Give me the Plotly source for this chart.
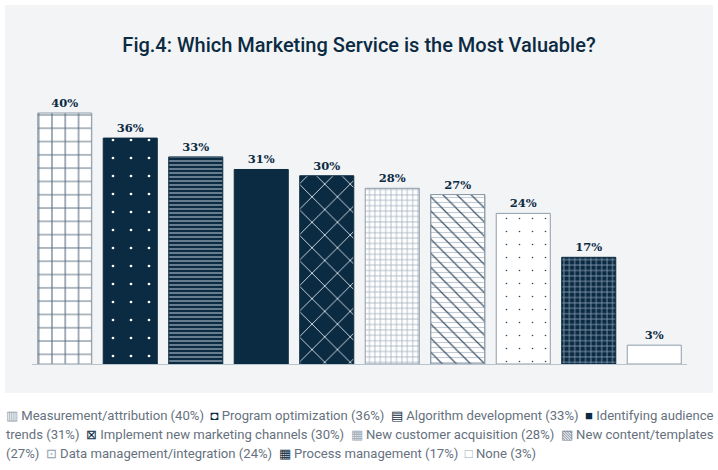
import plotly.graph_objects as go

# ---- data ----
categories = [
    "Measurement/attribution", "Program optimization", "Algorithm development",
    "Identifying audience trends", "Implement new marketing channels",
    "New customer acquisition", "New content/templates",
    "Data management/integration", "Process management", "None",
]
values = [40, 36, 33, 31, 30, 28, 27, 24, 17, 3]
title_text = "Fig.4: Which Marketing Service is the Most Valuable?"

# ---- styles ----
NAVY = "#0b2b42"
LINE = "#8e9dab"
WHITE = "#ffffff"
pat_shape = ["+", ".", "-", "", "x", "+", "-", ".", "+", ""]
pat_fg = ["#5a6f81", WHITE, "#c4ced8", NAVY, "#d5dde5", "#aab7c3", "#c3ccd5", "#33485a", "#7f96ab", WHITE]
pat_bg = [WHITE, NAVY, NAVY, NAVY, NAVY, WHITE, WHITE, WHITE, NAVY, WHITE]
pat_size = [13.3, 18, 4, 8, 18, 5.4, 5, 13, 5.4, 8]
pat_solid = [0.16, 0.018, 0.25, 0.2, 0.1, 0.3, 0.22, 0.012, 0.3, 0.2]
outline = [LINE, NAVY, NAVY, NAVY, NAVY, LINE, LINE, LINE, NAVY, LINE]
swatches = [("▥", "#8e9dab"), ("◘", NAVY), ("▤", NAVY), ("■", NAVY), ("⊠", NAVY),
            ("▦", "#9aa9b7"), ("▧", "#6f8090"), ("⊡", "#8e9dab"), ("▦", NAVY), ("□", "#9aa9b7")]

W, H = 718, 470
L, R, T, B = 32, 31, 95, 106
pw, ph = W - L - R, H - T - B
px_per_unit = 6.275
ymax = ph / px_per_unit

fig = go.Figure()
for i, (cat, v) in enumerate(zip(categories, values)):
    pattern = dict(shape=pat_shape[i], fgcolor=pat_fg[i], bgcolor=pat_bg[i],
                   size=pat_size[i], solidity=pat_solid[i], fillmode="replace")
    fig.add_trace(go.Bar(
        x=[cat], y=[v],
        text=[f"{v}%"], textposition="outside", cliponaxis=False,
        textfont=dict(family="DejaVu Serif", size=11.5, color=NAVY, weight="bold"),
        marker=dict(color=pat_bg[i], line=dict(color=outline[i], width=1), pattern=pattern),
        showlegend=False, hoverinfo="x+y",
    ))
# second layer of pattern for "New content/templates" (diagonals over horizontal lines)
idx = categories.index("New content/templates")
fig.add_trace(go.Bar(
    x=[categories[idx]], y=[values[idx]],
    marker=dict(color="rgba(0,0,0,0)", line=dict(color=LINE, width=1),
                pattern=dict(shape="\\", fgcolor="#3d5366", bgcolor="rgba(0,0,0,0)",
                             size=10, solidity=0.12, fillmode="replace")),
    showlegend=False, hoverinfo="skip",
))

# ---- legend as wrapped text ----
tokens = []
for (sym, col), cat, v in zip(swatches, categories, values):
    words = f"{cat} ({v}%)".split(" ")
    tokens.append((f'<span style="color:{col}">{sym}</span> {words[0]}', len(words[0]) + 2, True))
    for w in words[1:]:
        tokens.append((w, len(w), False))
lines, cur, n = [], [], 0
for tok, ln, new_item in tokens:
    add = ln + (1 if cur else 0) + (1 if new_item and cur else 0)
    if cur and n + add > 118:
        lines.append(cur)
        cur, n = [], 0
        add = ln
    if cur:
        cur.append(("  " if new_item else " ") + tok)
    else:
        cur.append(tok)
    n += add
if cur:
    lines.append(cur)

leg_y_px = [415.7, 434.5, 453.5]
for i, parts in enumerate(lines):
    fig.add_annotation(
        text="".join(parts), xref="paper", yref="paper",
        x=(4 - L) / pw, y=(H - B - leg_y_px[i]) / ph,
        xanchor="left", yanchor="middle", showarrow=False,
        font=dict(family="Roboto", size=13.1, color="#66717e"),
    )

# gray panel
fig.add_shape(type="rect", xref="paper", yref="paper", layer="below",
              x0=(5 - L) / pw, x1=(713 - L) / pw,
              y0=(H - B - 393) / ph, y1=(H - B - 5) / ph,
              fillcolor="#f3f4f6", line=dict(width=0))

fig.update_layout(
    width=W, height=H,
    margin=dict(l=L, r=R, t=T, b=B),
    paper_bgcolor="white", plot_bgcolor="rgba(0,0,0,0)",
    barmode="overlay", bargap=0.175,
    title=dict(text=title_text, x=0.5, xanchor="center", y=1 - 45 / H, yanchor="middle",
               font=dict(family="Roboto", size=20, color=NAVY, weight=500)),
    xaxis=dict(showticklabels=False, showgrid=False, zeroline=False, showline=True,
               linecolor="#b9c3cc", linewidth=1, fixedrange=True,
               categoryorder="array", categoryarray=categories),
    yaxis=dict(range=[0, ymax], visible=False, fixedrange=True),
    font=dict(family="Roboto"),
)

fig.write_html("out.html", config={"displayModeBar": False},
               post_script="document.body.style.margin='0px';")
